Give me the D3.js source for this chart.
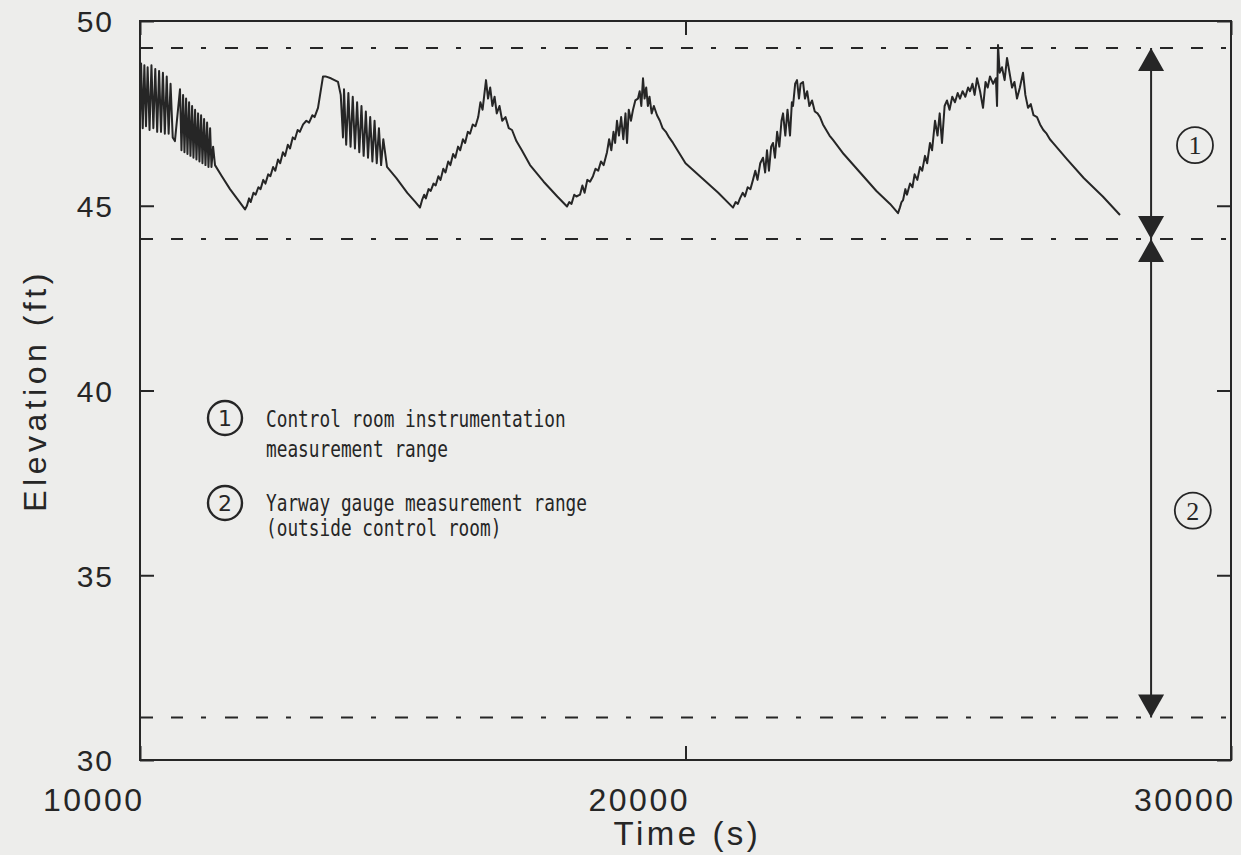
<!DOCTYPE html>
<html>
<head>
<meta charset="utf-8">
<script src="https://cdn.jsdelivr.net/npm/d3@7"></script>
<style>
  html, body { margin: 0; padding: 0; background: #ededeb; }
  svg { display: block; }
</style>
</head>
<body>
<svg id="chart" width="1241" height="855"></svg>
<script>
// ---------------- DATA ----------------
const xTicks = [10000, 20000, 30000];
const yTicks = [30, 35, 40, 45, 50];
const xTitle = "Time (s)";
const yTitle = "Elevation (ft)";

// Level reference lines (ft)
const rangeLevels = [49.27, 44.1, 31.15];

// Measurement ranges: [top, bottom, label]
const ranges = [
  [49.27, 44.1, "1"],
  [44.1, 31.15, "2"]
];
const rangeLabelElev = [46.64, 36.75];
const rangeLabelTime = [29340, 29300];

const legendItems = [
  ["1", "Control room instrumentation", "measurement range"],
  ["2", "Yarway gauge measurement range", "(outside control room)"]
];

// Water level series: [time (s), elevation (ft)]
const levelTime = [
  10000,10020,10050,10080,10110,10140,10175,10210,10245,10280,10315,10350,10385,10420,10455,10490,10525,10560,10600,10640,
  10733,10760,10790,10815,10845,10870,10900,10925,10955,10980,11010,11035,11065,11090,11120,11145,11175,11200,11230,11255,11285,11310,11340,11375,
  11500,11650,11800,11925,
  11960,12000,12030,12080,12120,12170,12210,12260,12300,12350,12390,12440,12480,12530,12570,12620,12660,12710,12750,12800,12840,12890,12930,12990,13050,13100,13160,13200,13263,13355,13400,13500,13630,13680,13721,
  13740,13780,13820,13860,13900,13940,13980,14020,14060,14100,14140,14180,14220,14260,14300,14340,14380,14420,14460,14528,
  14700,14900,15050,15133,
  15170,15210,15240,15290,15330,15380,15420,15470,15510,15560,15600,15650,15690,15740,15780,15830,15870,15920,15960,16010,16050,16100,16150,16200,16240,16280,16343,16380,16420,16460,16500,16540,16590,16640,16700,16760,16820,16900,17000,17150,
  17400,17650,17828,
  17870,17910,17960,18000,18066,18110,18150,18200,18250,18304,18350,18400,18450,18500,18561,18600,18640,18680,18710,18744,18780,18820,18860,18900,18928,18960,19000,19038,19080,19129,19160,19190,19221,19250,19280,19310,19340,19380,19420,19478,19530,19580,19640,19700,19771,20000,20300,20600,20871,
  20920,20960,20999,21050,21090,21140,21190,21237,21280,21320,21370,21421,21460,21494,21530,21570,21604,21640,21680,21720,21760,21788,21830,21870,21916,21950,21971,22010,22044,22080,22110,22154,22190,22230,22270,22320,22370,22420,22466,22520,22580,22640,22704,22900,23200,23500,23750,23896,
  23930,23960,23988,24030,24060,24116,24160,24200,24250,24299,24340,24390,24430,24482,24520,24574,24620,24660,24702,24750,24794,24840,24890,24940,24990,25032,25080,25130,25180,25216,25260,25300,25344,25400,25454,25500,25540,25582,25640,25690,25711,25729,25760,25802,25850,25894,25940,25986,26030,26077,26130,26187,26230,26279,26330,26380,26444,26500,26560,26620,26680,26737,27000,27300,27650,27965
];
const levelElev = [
  47.3,48.85,47.1,48.8,47.15,48.75,47.05,48.8,47.1,48.7,47.0,48.65,47.0,48.6,46.95,48.5,46.95,48.3,46.85,46.75,
  48.15,46.5,48.0,46.45,47.9,46.4,47.8,46.35,47.7,46.3,47.6,46.25,47.5,46.2,47.45,46.15,47.35,46.1,47.25,46.05,47.1,46.05,46.6,46.1,
  45.8,45.45,45.15,44.9,
  45.0,45.2,45.1,45.35,45.3,45.5,45.45,45.7,45.6,45.85,45.8,46.05,45.95,46.25,46.15,46.45,46.35,46.65,46.55,46.85,46.8,47.05,47.0,47.2,47.3,47.25,47.45,47.4,47.65,48.5,48.5,48.45,48.35,48.0,46.85,
  48.15,46.65,48.05,46.6,47.95,46.55,47.8,46.45,47.7,46.35,47.55,46.3,47.4,46.2,47.3,46.15,47.1,46.1,46.8,46.05,
  45.75,45.35,45.1,44.95,
  45.15,45.3,45.2,45.45,45.4,45.6,45.55,45.8,45.7,46.0,45.9,46.2,46.1,46.4,46.3,46.6,46.5,46.8,46.7,47.0,46.95,47.2,47.15,47.4,47.8,47.6,48.4,47.9,48.2,47.7,47.95,47.5,47.7,47.3,47.4,47.1,47.05,46.75,46.5,46.1,
  45.65,45.25,44.98,
  45.1,45.05,45.3,45.25,45.3,45.55,45.35,45.7,45.65,45.8,46.0,45.95,46.2,46.1,46.45,46.8,46.5,47.0,46.7,47.3,46.9,47.4,46.8,47.5,46.7,47.6,47.3,47.6,47.85,47.9,48.1,47.7,48.45,47.9,48.2,47.7,47.95,47.5,47.7,47.45,47.3,47.1,47.0,46.85,46.7,46.15,45.75,45.35,44.95,
  45.1,45.05,45.2,45.35,45.25,45.5,45.45,45.7,45.95,45.7,46.15,46.3,45.9,46.5,45.95,46.6,46.7,46.3,47.0,46.6,47.3,47.5,46.9,47.6,46.9,47.8,47.7,48.3,48.4,47.9,48.3,48.35,47.9,48.1,47.7,47.85,47.55,47.5,47.4,47.2,47.05,46.9,46.78,46.4,45.9,45.4,45.05,44.8,
  44.95,45.1,45.15,45.45,45.3,45.6,45.5,45.85,45.7,46.05,45.95,46.35,46.15,46.7,46.5,47.3,46.9,47.5,46.7,47.7,47.85,47.6,47.95,47.8,48.05,47.9,48.1,47.95,48.2,48.1,48.3,48.0,48.45,48.1,47.65,48.35,48.2,48.5,48.3,48.45,47.7,49.35,48.6,48.75,48.4,49.0,48.6,48.2,48.35,47.9,48.2,48.6,48.0,47.65,47.75,47.45,47.4,47.2,47.05,46.95,46.8,46.7,46.25,45.75,45.25,44.75
];

// ---------------- CHART ----------------
const ink = "#262626";
const svg = d3.select("#chart");
const margin = { left: 140, right: 10, top: 21, bottom: 95 };
const W = 1241, H = 855;
const x0 = margin.left, x1 = W - margin.right, y0 = margin.top, y1 = H - margin.bottom;

const x = d3.scaleLinear().domain([10000, 30000]).range([x0, x1]);
const y = d3.scaleLinear().domain([30, 50]).range([y1, y0]);

svg.append("rect").attr("width", W).attr("height", H).attr("fill", "#ededeb");

// Axes
const axB = svg.append("g").attr("transform", `translate(0,${y1})`)
  .call(d3.axisBottom(x).tickValues(xTicks).tickFormat(d3.format("d")).tickSizeInner(-14).tickSizeOuter(0).tickPadding(28));
const axT = svg.append("g").attr("transform", `translate(0,${y0})`)
  .call(d3.axisTop(x).tickValues(xTicks).tickFormat("").tickSizeInner(-14).tickSizeOuter(0));
const axL = svg.append("g").attr("transform", `translate(${x0},0)`)
  .call(d3.axisLeft(y).tickValues(yTicks).tickFormat(d3.format("d")).tickSizeInner(-14).tickSizeOuter(0).tickPadding(26));
const axR = svg.append("g").attr("transform", `translate(${x1},0)`)
  .call(d3.axisRight(y).tickValues(yTicks).tickFormat("").tickSizeInner(-14).tickSizeOuter(0));

[axB, axT, axL, axR].forEach(a => {
  a.select(".domain").remove();
  a.selectAll("line").attr("stroke", ink).attr("stroke-width", 2);
  a.selectAll("text").attr("fill", ink).attr("font-family", "'Liberation Sans', Arial, sans-serif");
});
axB.selectAll("text").attr("font-size", 32).attr("letter-spacing", 2.5).attr("text-anchor", "end").attr("dx", 4);
axL.selectAll("text").attr("font-size", 30).attr("letter-spacing", 2).attr("dy", "0.36em");

// Frame
svg.append("rect").attr("x", x0).attr("y", y0).attr("width", x1 - x0).attr("height", y1 - y0)
  .attr("fill", "none").attr("stroke", ink).attr("stroke-width", 2);

// Reference dashed lines
svg.append("g").selectAll("line").data(rangeLevels).join("line")
  .attr("x1", x0).attr("x2", x1)
  .attr("y1", d => y(d)).attr("y2", d => y(d))
  .attr("stroke", ink).attr("stroke-width", 2)
  .attr("stroke-dasharray", "13 18 12 18 5 19");

// Data line
const pts = levelTime.map((t, i) => [t, levelElev[i]]);
svg.append("path").datum(pts)
  .attr("d", d3.line().x(d => x(d[0])).y(d => y(d[1])))
  .attr("fill", "none").attr("stroke", ink).attr("stroke-width", 2).attr("stroke-linejoin", "round");

// Range arrows
const ax = x(28535);
const triH = 23, triW = 13;
const arrows = svg.append("g");
ranges.forEach(([top, bot, lab]) => {
  const yt = y(top), yb = y(bot);
  arrows.append("line").attr("x1", ax).attr("x2", ax).attr("y1", yt).attr("y2", yb)
    .attr("stroke", ink).attr("stroke-width", 2);
  arrows.append("path").attr("d", `M${ax},${yt} L${ax - triW},${yt + triH} L${ax + triW},${yt + triH} Z`).attr("fill", ink);
  arrows.append("path").attr("d", `M${ax},${yb} L${ax - triW},${yb - triH} L${ax + triW},${yb - triH} Z`).attr("fill", ink);
});

// Circled labels next to arrows
ranges.forEach(([top, bot, lab], i) => {
  const cx = x(rangeLabelTime[i]), cy = y(rangeLabelElev[i]);
  svg.append("circle").attr("cx", cx).attr("cy", cy).attr("r", 18)
    .attr("fill", "none").attr("stroke", ink).attr("stroke-width", 1.8);
  svg.append("text").attr("x", cx).attr("y", cy).attr("dy", "0.35em").attr("text-anchor", "middle")
    .attr("font-family", "'Liberation Serif', serif").attr("font-size", 26).attr("fill", ink).text(lab);
});

// Legend
const legCircleY = [418, 503];
const legBase = [[427, 457], [511, 536]];
legendItems.forEach(([lab, l1, l2], i) => {
  const cy = legCircleY[i];
  svg.append("circle").attr("cx", 225).attr("cy", cy).attr("r", 17)
    .attr("fill", "none").attr("stroke", ink).attr("stroke-width", 2.4);
  svg.append("text").attr("x", 225).attr("y", cy).attr("dy", "0.36em").attr("text-anchor", "middle")
    .attr("font-family", "'DejaVu Sans', sans-serif").attr("font-size", 22).attr("fill", ink).text(lab);
  [l1, l2].forEach((s, j) => {
    svg.append("text").attr("x", 266).attr("y", legBase[i][j])
      .attr("font-family", "'DejaVu Sans Mono', 'Liberation Mono', monospace")
      .attr("font-size", 23).attr("fill", ink)
      .attr("textLength", s.length * 10.7).attr("lengthAdjust", "spacingAndGlyphs")
      .text(s);
  });
});

// Axis titles
svg.append("text").attr("x", (x0 + x1) / 2 + 2).attr("y", 845).attr("text-anchor", "middle")
  .attr("font-family", "'Liberation Sans', Arial, sans-serif").attr("font-size", 33)
  .attr("letter-spacing", 3.5).attr("fill", ink).text(xTitle);
svg.append("text").attr("transform", `translate(46,${(y0 + y1) / 2}) rotate(-90)`).attr("text-anchor", "middle")
  .attr("font-family", "'Liberation Sans', Arial, sans-serif").attr("font-size", 32)
  .attr("letter-spacing", 4.5).attr("fill", ink).text(yTitle);
</script>
</body>
</html>
